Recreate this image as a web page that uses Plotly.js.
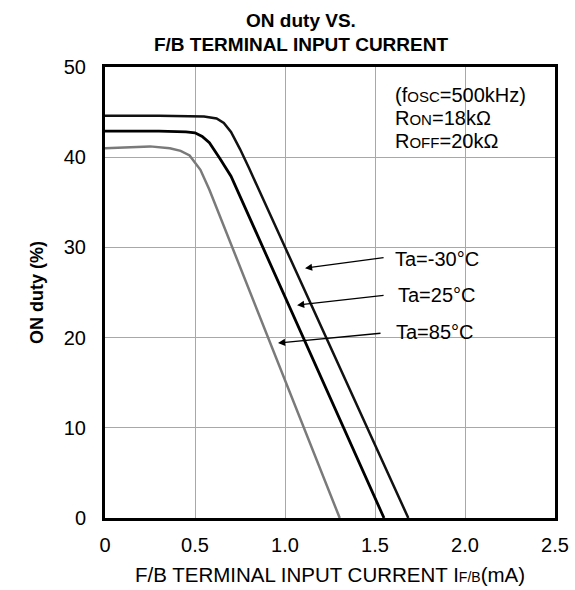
<!DOCTYPE html>
<html>
<head>
<meta charset="utf-8">
<script src="https://cdn.plot.ly/plotly-3.0.1.min.js"></script>
<style>html,body{margin:0;padding:0;background:#fff;}</style>
</head>
<body>
<div id="chart" style="width:575px;height:590px;"></div>
<script>
// Data
const xM30 = [0, 0.3, 0.55, 0.62, 0.66, 0.70, 0.75, 0.80, 1.685];
const yM30 = [44.6, 44.6, 44.5, 44.3, 43.8, 42.8, 40.9, 38.8, 0];
const x25  = [0, 0.3, 0.45, 0.5, 0.54, 0.58, 0.64, 0.7, 1.55];
const y25  = [42.9, 42.9, 42.8, 42.7, 42.3, 41.6, 39.8, 37.9, 0];
const x85  = [0, 0.1, 0.25, 0.36, 0.42, 0.47, 0.53, 0.58, 1.304];
const y85  = [41.0, 41.1, 41.2, 41.0, 40.7, 40.2, 38.6, 36.4, 0];

const xTickVals = [0, 0.5, 1.0, 1.5, 2.0, 2.5];
const xTickText = ['0', '0.5', '1.0', '1.5', '2.0', '2.5'];
const yTickVals = [0, 10, 20, 30, 40, 50];

const labels = ['Ta=-30°C', 'Ta=25°C', 'Ta=85°C'];
const labelPos = [[1.60, 28.7], [1.617, 24.7], [1.606, 20.6]];
const arrowHeads = [[1.111, 27.7], [1.067, 23.6], [0.961, 19.4]];
const arrowTails = [[1.556, 28.9], [1.556, 24.7], [1.539, 20.5]];

const FONT = 'Liberation Sans, Arial, Helvetica, sans-serif';

const traces = [
  {x: xM30, y: yM30, mode: 'lines', name: labels[0], line: {color: '#111', width: 2.5}},
  {x: x25, y: y25, mode: 'lines', name: labels[1], line: {color: '#000', width: 2.8}},
  {x: x85, y: y85, mode: 'lines', name: labels[2], line: {color: '#7a7a7a', width: 2.5}}
];

const annotations = [];
for (let i = 0; i < labels.length; i++) {
  annotations.push({
    x: arrowHeads[i][0], y: arrowHeads[i][1], xref: 'x', yref: 'y',
    ax: arrowTails[i][0], ay: arrowTails[i][1], axref: 'x', ayref: 'y',
    text: '', showarrow: true, arrowhead: 2, arrowsize: 1.1, arrowwidth: 1.3, arrowcolor: '#000'
  });
  annotations.push({
    x: labelPos[i][0], y: labelPos[i][1], xref: 'x', yref: 'y',
    text: labels[i], showarrow: false, xanchor: 'left', yanchor: 'middle',
    font: {family: FONT, size: 20, color: '#000'}
  });
}
const sm = "<span style='font-size:15px'>";
const boxLines = [
  '(f' + sm + 'OSC</span>=500kHz)',
  'R' + sm + 'ON</span>=18kΩ',
  'R' + sm + 'OFF</span>=20kΩ'
];
const boxY = [46.9, 44.4, 41.8];
for (let i = 0; i < boxLines.length; i++) {
  annotations.push({
    x: 1.598, y: boxY[i], xref: 'x', yref: 'y', text: boxLines[i], showarrow: false,
    xanchor: 'left', yanchor: 'middle', font: {family: FONT, size: 20, color: '#000'}
  });
}

const layout = {
  width: 575, height: 590,
  margin: {l: 105, r: 20, t: 67, b: 72},
  paper_bgcolor: '#fff', plot_bgcolor: '#fff',
  showlegend: false,
  title: {
    text: '<b>ON duty VS.<br>F/B TERMINAL INPUT CURRENT</b>',
    x: 301 / 575, xanchor: 'center', xref: 'container',
    y: 0.955, yanchor: 'top', yref: 'container',
    font: {family: FONT, size: 19, color: '#000'}
  },
  xaxis: {
    range: [0, 2.5], tickvals: xTickVals, ticktext: xTickText,
    showgrid: true, gridcolor: '#a8a8a8', gridwidth: 1, zeroline: false,
    showline: true, linecolor: '#000', linewidth: 3, mirror: true,
    ticks: 'outside', ticklen: 7, tickcolor: 'rgba(0,0,0,0)',
    tickfont: {family: FONT, size: 20, color: '#000'},
    title: {text: 'F/B TERMINAL INPUT CURRENT I' + "<span style='font-size:14px'>F/B</span>(mA)", standoff: 13,
            font: {family: FONT, size: 20.5, color: '#000'}}
  },
  yaxis: {
    range: [0, 50], tickvals: yTickVals,
    showgrid: true, gridcolor: '#a8a8a8', gridwidth: 1, zeroline: false,
    showline: true, linecolor: '#000', linewidth: 3, mirror: true,
    ticks: 'outside', ticklen: 12, tickcolor: 'rgba(0,0,0,0)',
    tickfont: {family: FONT, size: 20, color: '#000'},
    title: {text: '<b>ON duty (%)</b>', standoff: 16,
            font: {family: FONT, size: 18, color: '#000'}}
  },
  annotations: annotations
};

Plotly.newPlot('chart', traces, layout, {displayModeBar: false, staticPlot: true});
</script>
</body>
</html>
